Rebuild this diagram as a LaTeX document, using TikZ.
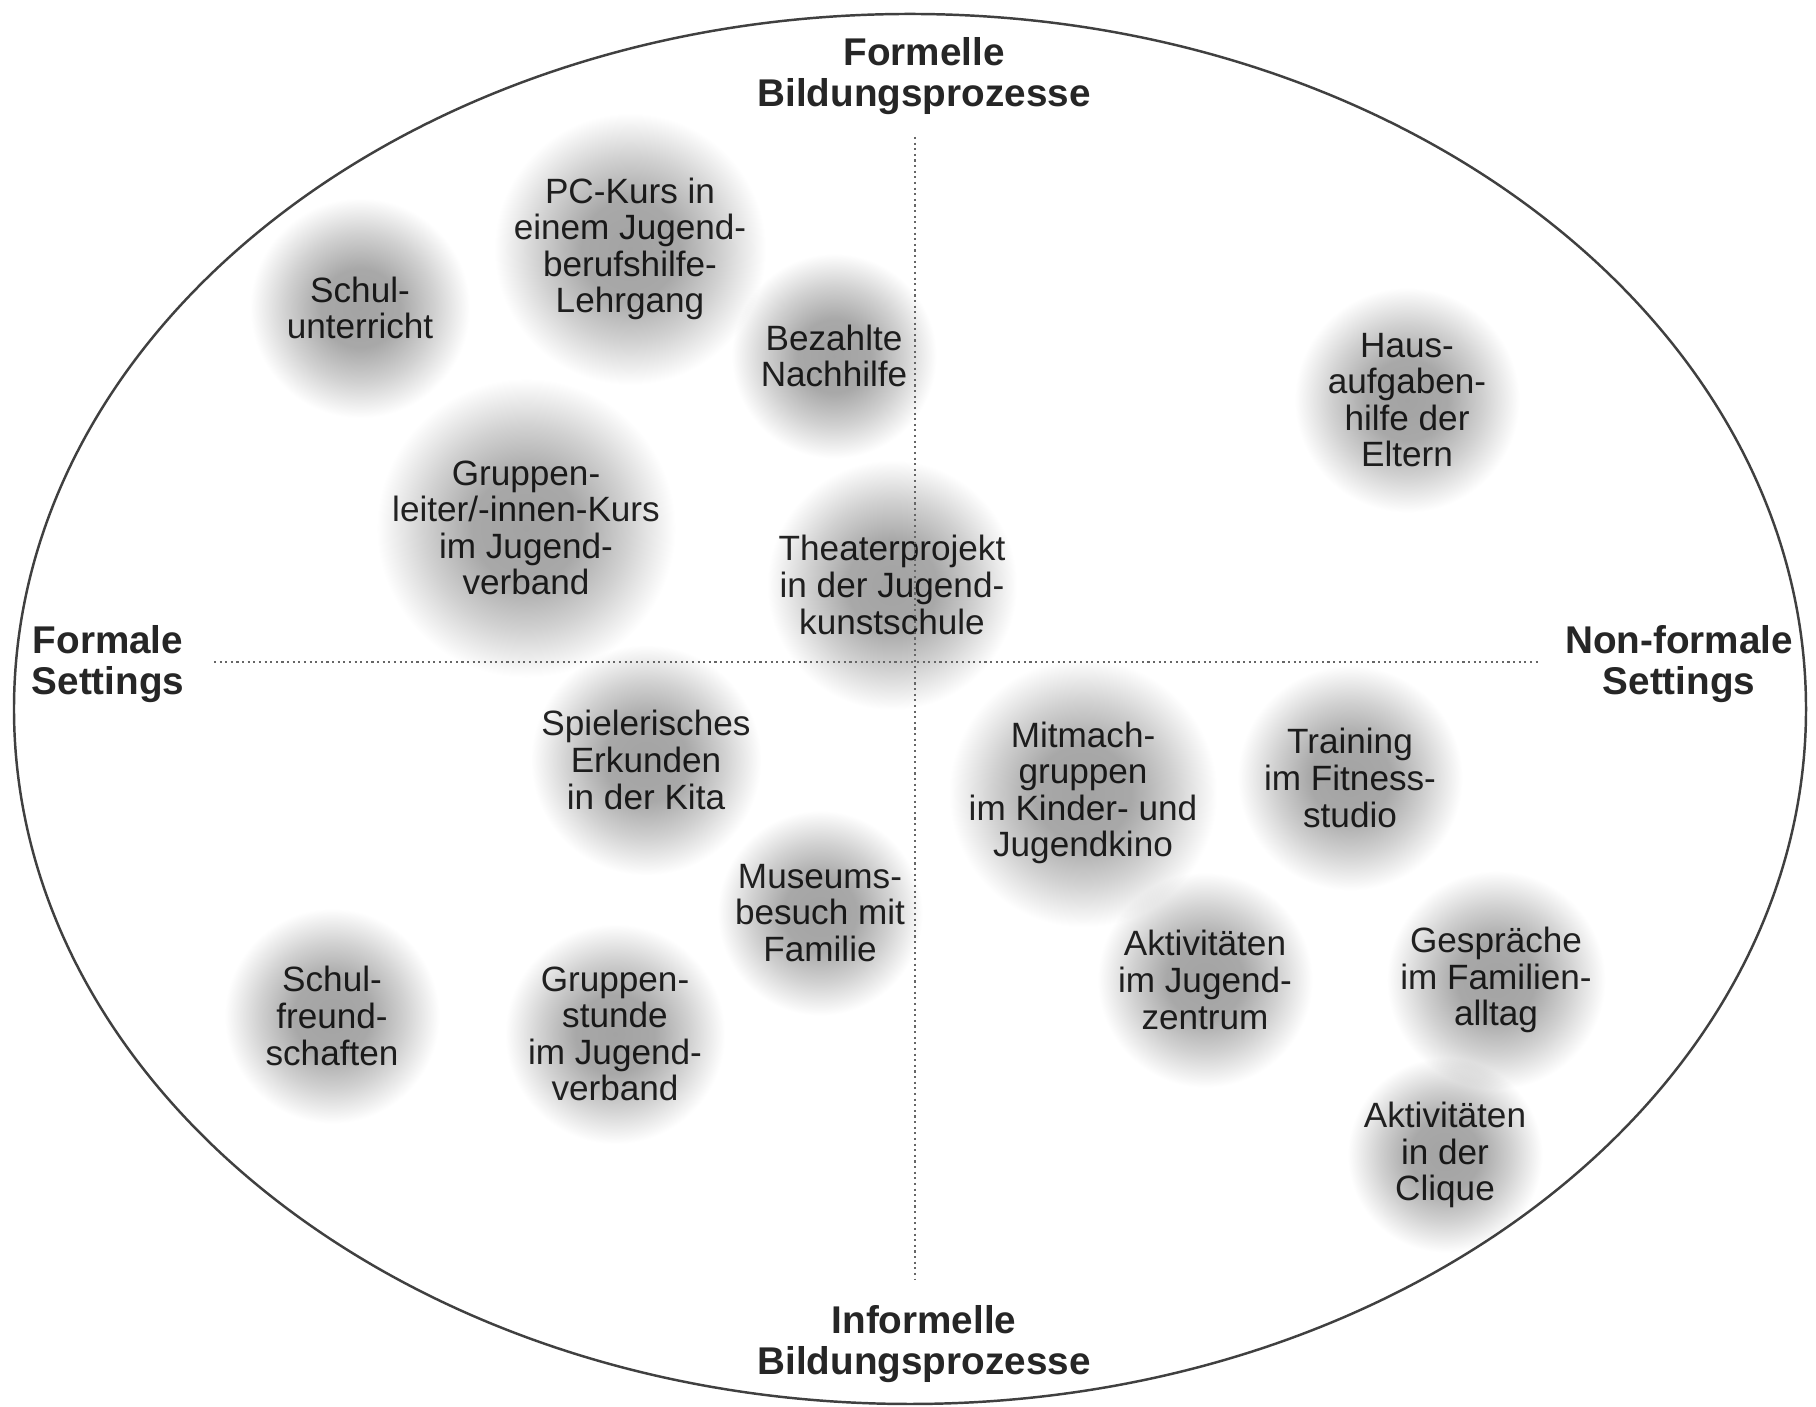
\documentclass[tikz,border=0pt]{standalone}
\usepackage{fontspec}
\setmainfont{Liberation Sans}
\pgfdeclareradialshading{blobshade}{\pgfpoint{0bp}{0bp}}{color(0bp)=(black!36); color(9bp)=(black!34); color(17bp)=(black!18); color(25bp)=(white); color(50bp)=(white)}
\tikzset{
  blob/.style={circle, inner sep=0pt, shade, shading=blobshade, align=center,
    blend mode=multiply, font=\fontsize{10}{10.4}\selectfont, text=black!85},
  axislabel/.style={align=center, font=\fontsize{11}{11.6}\selectfont\bfseries, text=black!85},
  axis/.style={densely dotted, black!60, line width=0.6pt}
}
\begin{document}
\begin{tikzpicture}

\useasboundingbox (0,0) rectangle (18.16,14.07);
\fill[white] (0,0) rectangle (18.16,14.07);

\draw[black!75, line width=0.7pt] (9.10,6.98) ellipse (8.96 and 6.95);

\node[blob, minimum size=2.2cm] (schulunterricht) at (3.60,10.99) {Schul-\\unterricht};
\node[blob, minimum size=2.4cm] (pckurs) at (6.30,11.58) {PC-Kurs in\\einem Jugend-\\berufshilfe-\\Lehrgang};
\node[blob, minimum size=2.05cm] (nachhilfe) at (8.34,10.51) {Bezahlte\\Nachhilfe};
\node[blob, minimum size=2.4cm] (leiterkurs) at (5.26,8.79) {Gruppen-\\leiter/-innen-Kurs\\im Jugend-\\verband};
\node[blob, minimum size=2.5cm] (theater) at (8.92,8.22) {Theaterprojekt\\in der Jugend-\\kunstschule};
\node[blob, minimum size=2.25cm] (hausaufgaben) at (14.07,10.07) {Haus-\\aufgaben-\\hilfe der\\Eltern};

\node[blob, minimum size=2.3cm] (kita) at (6.46,6.47) {Spielerisches\\Erkunden\\in der Kita};
\node[blob, minimum size=2.05cm] (museum) at (8.20,4.94) {Museums-\\besuch mit\\Familie};
\node[blob, minimum size=2.15cm] (schulfreund) at (3.32,3.91) {Schul-\\freund-\\schaften};
\node[blob, minimum size=2.2cm] (gruppenstunde) at (6.15,3.73) {Gruppen-\\stunde\\im Jugend-\\verband};
\node[blob, minimum size=2.3cm] (mitmach) at (10.83,6.14) {Mitmach-\\gruppen\\im Kinder- und\\Jugendkino};
\node[blob, minimum size=2.25cm] (training) at (13.50,6.29) {Training\\im Fitness-\\studio};
\node[blob, minimum size=2.15cm] (jugendzentrum) at (12.05,4.27) {Aktivitäten\\im Jugend-\\zentrum};
\node[blob, minimum size=2.15cm] (familienalltag) at (14.96,4.27) {Gespräche\\im Familien-\\alltag};
\node[blob, minimum size=1.95cm] (clique) at (14.45,2.52) {Aktivitäten\\in der\\Clique};

\coordinate (vtop) at (9.15,12.70);
\coordinate (vbot) at (9.15,1.27);
\coordinate (hleft) at (2.14,7.45);
\coordinate (hright) at (15.40,7.45);
\draw[axis] (vtop) -- (vbot);
\draw[axis] (hleft) -- (hright);

\node[axislabel] (formell) at (9.24,13.31) {Formelle\\Bildungsprozesse};
\node[axislabel] (informell) at (9.24,0.63) {Informelle\\Bildungsprozesse};
\node[axislabel] (formal) at (1.08,7.43) {Formale\\Settings};
\node[axislabel] (nonformal) at (16.79,7.43) {Non-formale\\Settings};

\end{tikzpicture}
\end{document}
